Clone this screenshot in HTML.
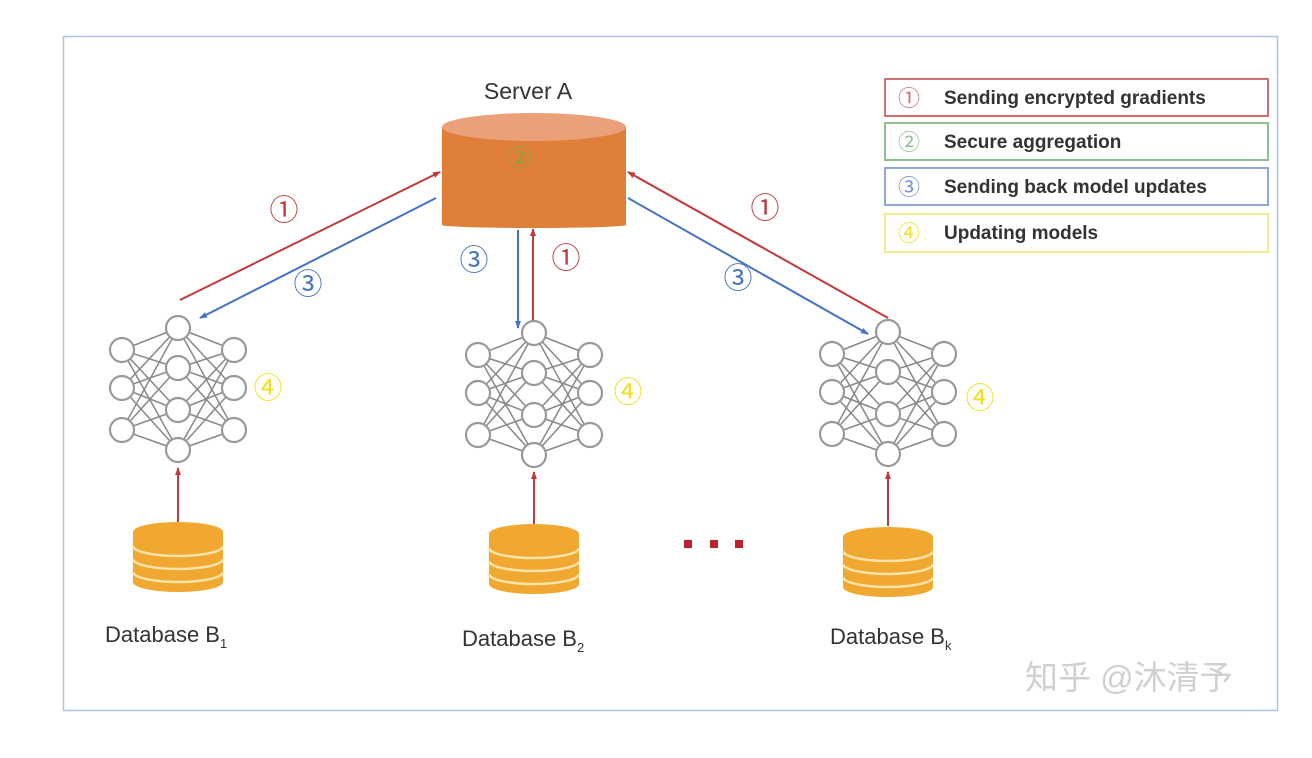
<!DOCTYPE html>
<html><head><meta charset="utf-8"><style>
html,body{margin:0;padding:0;background:#fff;}
svg{display:block;font-family:"Liberation Sans","Noto Sans CJK SC",sans-serif;}
</style></head><body>
<svg width="1312" height="758" viewBox="0 0 1312 758">
<defs>
<marker id="ar" markerWidth="8" markerHeight="8" refX="7" refY="4" orient="auto" markerUnits="userSpaceOnUse"><path d="M0,1 L8,4 L0,7 z" fill="#c0393b"/></marker>
<marker id="ab" markerWidth="8" markerHeight="8" refX="7" refY="4" orient="auto" markerUnits="userSpaceOnUse"><path d="M0,1 L8,4 L0,7 z" fill="#4472c4"/></marker>
<g id="net" stroke="#999" stroke-width="2.2" fill="#fff">
<g stroke-width="1.5" fill="none" stroke="#888">
<path d="M-56,20 L0,-2 M-56,20 L0,38 M-56,20 L0,80 M-56,20 L0,120 M-56,58 L0,-2 M-56,58 L0,38 M-56,58 L0,80 M-56,58 L0,120 M-56,100 L0,-2 M-56,100 L0,38 M-56,100 L0,80 M-56,100 L0,120"/>
<path d="M56,20 L0,-2 M56,20 L0,38 M56,20 L0,80 M56,20 L0,120 M56,58 L0,-2 M56,58 L0,38 M56,58 L0,80 M56,58 L0,120 M56,100 L0,-2 M56,100 L0,38 M56,100 L0,80 M56,100 L0,120"/>
</g>
<circle cx="-56" cy="20" r="12"/><circle cx="-56" cy="58" r="12"/><circle cx="-56" cy="100" r="12"/>
<circle cx="56" cy="20" r="12"/><circle cx="56" cy="58" r="12"/><circle cx="56" cy="100" r="12"/>
<circle cx="0" cy="-2" r="12"/><circle cx="0" cy="38" r="12"/><circle cx="0" cy="80" r="12"/><circle cx="0" cy="120" r="12"/>
</g>
<g id="db">
<rect x="-45" y="12" width="90" height="50" fill="#f0a830"/>
<ellipse cx="0" cy="62" rx="45" ry="10" fill="#f0a830"/>
<path d="M-45,26 A45,10 0 0 0 45,26 M-45,39 A45,10 0 0 0 45,39 M-45,52 A45,10 0 0 0 45,52" stroke="#fbe3a8" stroke-width="2.5" fill="none"/>
<ellipse cx="0" cy="12" rx="45" ry="10" fill="#f0a830"/>
</g>
</defs>
<rect x="63.5" y="36.5" width="1214" height="674" fill="#fff" stroke="#a9c4e4" stroke-width="1.5"/>

<text x="528" y="99" font-size="23" text-anchor="middle" fill="#333">Server A</text>
<rect x="442" y="127" width="184" height="98" fill="#e07f3a"/>
<ellipse cx="534" cy="225" rx="92" ry="3" fill="#e07f3a"/>
<ellipse cx="534" cy="127" rx="92" ry="14" fill="#eba07a"/>
<text x="520" y="166" font-size="24" fill="#8aa040" text-anchor="middle">②</text>

<g stroke-width="2" fill="none">
<line x1="180" y1="300" x2="440" y2="172" stroke="#c0393b" marker-end="url(#ar)"/>
<line x1="436" y1="198" x2="200" y2="318" stroke="#4472c4" marker-end="url(#ab)"/>
<line x1="518" y1="230" x2="518" y2="328" stroke="#4472c4" marker-end="url(#ab)"/>
<line x1="533" y1="322" x2="533" y2="229" stroke="#c0393b" marker-end="url(#ar)"/>
<line x1="888" y1="318" x2="628" y2="172" stroke="#c0393b" marker-end="url(#ar)"/>
<line x1="628" y1="198" x2="868" y2="334" stroke="#4472c4" marker-end="url(#ab)"/>
<line x1="178" y1="522" x2="178" y2="468" stroke="#c0393b" marker-end="url(#ar)"/>
<line x1="534" y1="524" x2="534" y2="472" stroke="#c0393b" marker-end="url(#ar)"/>
<line x1="888" y1="526" x2="888" y2="472" stroke="#c0393b" marker-end="url(#ar)"/>
</g>
<g font-size="29" text-anchor="middle">
<text x="284" y="220" fill="#c0393b">①</text>
<text x="308" y="294" fill="#4472c4">③</text>
<text x="474" y="270" fill="#4472c4">③</text>
<text x="566" y="268" fill="#c0393b">①</text>
<text x="738" y="288" fill="#4472c4">③</text>
<text x="765" y="218" fill="#c0393b">①</text>
<text x="268" y="398" fill="#f0e020">④</text>
<text x="628" y="402" fill="#f0e020">④</text>
<text x="980" y="408" fill="#f0e020">④</text>
</g>

<use href="#net" x="178" y="330"/>
<use href="#net" x="534" y="335"/>
<use href="#net" x="888" y="334"/>

<use href="#db" x="178" y="520"/>
<use href="#db" x="534" y="522"/>
<use href="#db" x="888" y="525"/>

<g fill="#c0202a"><rect x="684" y="540" width="8" height="8"/><rect x="710" y="540" width="8" height="8"/><rect x="735" y="540" width="8" height="8"/></g>

<g font-size="22" fill="#333">
<text x="105" y="642">Database B<tspan font-size="13" dy="6">1</tspan></text>
<text x="462" y="646">Database B<tspan font-size="13" dy="6">2</tspan></text>
<text x="830" y="644">Database B<tspan font-size="13" dy="6">k</tspan></text>
</g>
<text x="1025" y="689" font-size="33" fill="#d0d0d0">知乎 @沐清予</text>

<g font-size="19" font-weight="bold" fill="#333">
<rect x="885" y="79" width="383" height="37" fill="#fff" stroke="#d07070" stroke-width="2"/>
<text x="898" y="106" fill="#d07070" font-weight="normal" font-size="22">①</text><text x="944" y="104">Sending encrypted gradients</text>
<rect x="885" y="123" width="383" height="37" fill="#fff" stroke="#90c090" stroke-width="2"/>
<text x="898" y="150" fill="#90c090" font-weight="normal" font-size="22">②</text><text x="944" y="148">Secure aggregation</text>
<rect x="885" y="168" width="383" height="37" fill="#fff" stroke="#90a8d8" stroke-width="2"/>
<text x="898" y="195" fill="#7890d0" font-weight="normal" font-size="22">③</text><text x="944" y="193">Sending back model updates</text>
<rect x="885" y="214" width="383" height="38" fill="#fff" stroke="#f0ea90" stroke-width="2"/>
<text x="898" y="241" fill="#f0e020" font-weight="normal" font-size="22">④</text><text x="944" y="239">Updating models</text>
</g>
</svg>
</body></html>
